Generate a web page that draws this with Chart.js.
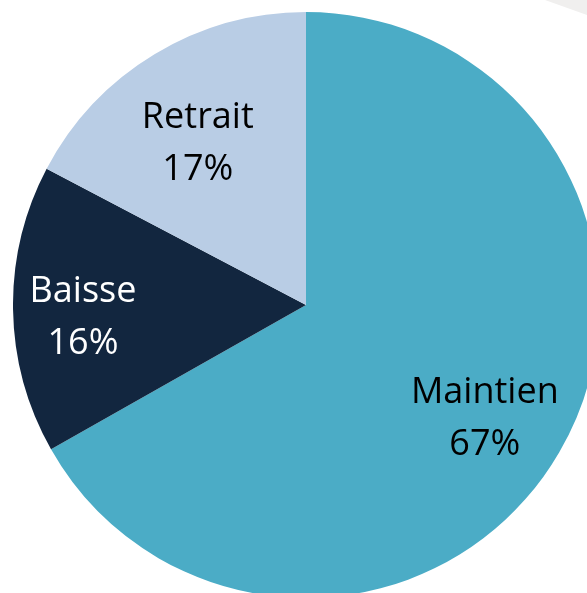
<!DOCTYPE html>
<html>
<head>
<meta charset="utf-8">
<script src="https://cdn.jsdelivr.net/npm/chart.js@4"></script>
<style>
  html, body { margin: 0; padding: 0; background: #ffffff; overflow: hidden; }
  body { width: 587px; height: 593px; position: relative; }
  #wrap { position: absolute; left: 13px; top: 12px; width: 586px; height: 586px; }
  #corner {
    position: absolute; left: 0; top: 0; width: 587px; height: 593px;
    background: #f0efee;
    clip-path: polygon(545px 0, 587px 0, 587px 15px);
  }
</style>
</head>
<body>
<div id="corner"></div>
<div id="wrap"><canvas id="myChart"></canvas></div>
<script>
const categories = ["Maintien", "Baisse", "Retrait"];
const shares = [66.8, 15.9, 17.3];
const sliceColors = ["#4bacc6", "#12263f", "#b9cde5"];
const labelColors = ["#000000", "#ffffff", "#000000"];

// draws "name / xx%" inside every slice
const sliceLabels = {
  id: "sliceLabels",
  afterDatasetsDraw(chart, args, opts) {
    const ctx = chart.ctx;
    const meta = chart.getDatasetMeta(0);
    ctx.save();
    ctx.font = opts.font;
    ctx.textAlign = "center";
    ctx.textBaseline = "alphabetic";
    meta.data.forEach((arc, i) => {
      const mid = (arc.startAngle + arc.endAngle) / 2 + (opts.shift[i] * Math.PI) / 180;
      const r = arc.outerRadius * opts.radius[i];
      const x = arc.x + Math.cos(mid) * r;
      const y = arc.y + Math.sin(mid) * r;
      const half = (opts.lineHeight + opts.capHeight) / 2;
      ctx.fillStyle = labelColors[i];
      ctx.fillText(categories[i], x, y - half + opts.capHeight);
      ctx.fillText(Math.round(shares[i]) + "%", x, y + half);
    });
    ctx.restore();
  },
};

const ctx = document.getElementById("myChart").getContext("2d");
const myChart = new Chart(ctx, {
  type: "pie",
  data: {
    labels: categories,
    datasets: [
      {
        data: shares,
        backgroundColor: sliceColors,
        borderWidth: 0,
      },
    ],
  },
  options: {
    responsive: true,
    maintainAspectRatio: false,
    animation: false,
    layout: { padding: 0 },
    plugins: {
      legend: { display: false },
      tooltip: { enabled: false },
      sliceLabels: {
        font: "36px 'Open Sans', 'Noto Sans', sans-serif",
        lineHeight: 52,
        capHeight: 25,
        radius: [0.72, 0.762, 0.67],
        shift: [1.8, -1.9, -2.3],
      },
    },
  },
  plugins: [sliceLabels],
});
</script>
</body>
</html>
